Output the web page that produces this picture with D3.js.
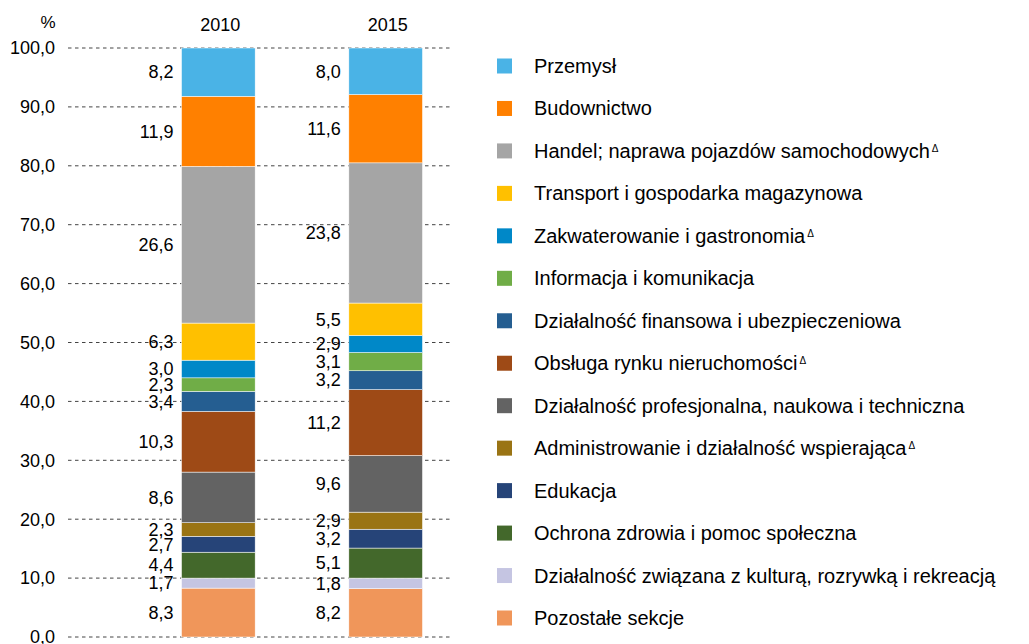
<!DOCTYPE html>
<html>
<head>
<meta charset="utf-8">
<script src="https://cdn.jsdelivr.net/npm/d3@7"></script>
<style>
  body { margin: 0; background: #fff; }
  text { font-family: "Liberation Sans", Arial, sans-serif; fill: #000; }
</style>
</head>
<body>
<div id="chart"></div>
<script>
// Data (legend order, top of the stack first)
var years = ["2010", "2015"];
var sectors = [
  "Przemysł",
  "Budownictwo",
  "Handel; naprawa pojazdów samochodowych",
  "Transport i gospodarka magazynowa",
  "Zakwaterowanie i gastronomia",
  "Informacja i komunikacja",
  "Działalność finansowa i ubezpieczeniowa",
  "Obsługa rynku nieruchomości",
  "Działalność profesjonalna, naukowa i techniczna",
  "Administrowanie i działalność wspierająca",
  "Edukacja",
  "Ochrona zdrowia i pomoc społeczna",
  "Działalność związana z kulturą, rozrywką i rekreacją",
  "Pozostałe sekcje"
];
var delta = [false, false, true, false, true, false, false, true, false, true, false, false, false, false];
var values2010 = [8.2, 11.9, 26.6, 6.3, 3.0, 2.3, 3.4, 10.3, 8.6, 2.3, 2.7, 4.4, 1.7, 8.3];
var values2015 = [8.0, 11.6, 23.8, 5.5, 2.9, 3.1, 3.2, 11.2, 9.6, 2.9, 3.2, 5.1, 1.8, 8.2];
var colors = ["#4ab3e6", "#ff8000", "#a5a5a5", "#ffc000", "#0088c8", "#70ad47", "#255e91",
              "#9e4a16", "#636363", "#9a7414", "#264478", "#43682b", "#c5c5e2", "#f0965a"];
var yTicks = [0, 10, 20, 30, 40, 50, 60, 70, 80, 90, 100];

var width = 1029, height = 644;

var svg = d3.select("#chart")
  .append("svg")
  .attr("width", width)
  .attr("height", height);

var y = d3.scaleLinear().domain([0, 100]).range([637, 48]);

var x = d3.scaleBand()
  .domain(years)
  .range([51, 553])
  .paddingInner(0.56)
  .paddingOuter(0.78);

var fmt = function(v) { return v.toFixed(1).replace(".", ","); };

// Grid lines
svg.append("g").selectAll("line")
  .data(yTicks)
  .enter()
  .append("line")
  .attr("x1", 68)
  .attr("x2", 453)
  .attr("y1", function(d) { return y(d); })
  .attr("y2", function(d) { return y(d); })
  .attr("stroke", "#444")
  .attr("stroke-width", 1)
  .attr("stroke-dasharray", "3.5,3.5");

// Y tick labels
svg.append("g").selectAll("text")
  .data(yTicks)
  .enter()
  .append("text")
  .attr("x", 55)
  .attr("y", function(d) { return y(d); })
  .attr("dy", "0.35em")
  .attr("text-anchor", "end")
  .style("font-size", "18px")
  .text(function(d) { return fmt(d); });

svg.append("text")
  .attr("x", 48)
  .attr("y", 22)
  .attr("dy", "0.35em")
  .attr("text-anchor", "middle")
  .style("font-size", "17px")
  .text("%");

// Stacked bars
var rows = years.map(function(yr, i) {
  var vals = i === 0 ? values2010 : values2015;
  var row = { year: yr };
  sectors.forEach(function(s, j) { row[s] = vals[j]; });
  return row;
});

var stack = d3.stack().keys(sectors.slice().reverse());
var series = stack(rows);

var groups = svg.append("g").selectAll("g")
  .data(series)
  .enter()
  .append("g")
  .attr("fill", function(d) { return colors[sectors.indexOf(d.key)]; });

groups.selectAll("rect")
  .data(function(d) { return d; })
  .enter()
  .append("rect")
  .attr("x", function(d) { return x(d.data.year); })
  .attr("y", function(d) { return y(Math.min(d[1], 100)); })
  .attr("width", x.bandwidth())
  .attr("height", function(d) { return y(d[0]) - y(Math.min(d[1], 100)); })
  .attr("stroke", "#fff")
  .attr("stroke-width", 0.5);

// Value labels
groups.selectAll("text")
  .data(function(d) { return d; })
  .enter()
  .append("text")
  .attr("x", function(d) { return x(d.data.year) - 8; })
  .attr("y", function(d) { return y((d[0] + Math.min(d[1], 100)) / 2); })
  .attr("dy", "0.35em")
  .attr("text-anchor", "end")
  .style("font-size", "18px")
  .text(function(d) { return fmt(d[1] - d[0]); });

// Year labels
svg.append("g").selectAll("text")
  .data(years)
  .enter()
  .append("text")
  .attr("x", function(d) { return x(d) + x.bandwidth() / 2 + 2; })
  .attr("y", 25)
  .attr("dy", "0.35em")
  .attr("text-anchor", "middle")
  .style("font-size", "18px")
  .text(function(d) { return d; });

// Legend
var ly = d3.scalePoint().domain(sectors).range([66, 618]);

var legend = svg.append("g").selectAll("g")
  .data(sectors)
  .enter()
  .append("g")
  .attr("transform", function(d) { return "translate(497," + ly(d) + ")"; });

legend.append("rect")
  .attr("x", 0)
  .attr("y", -7.5)
  .attr("width", 15)
  .attr("height", 15)
  .attr("fill", function(d, i) { return colors[i]; });

var lt = legend.append("text")
  .attr("x", 37)
  .attr("y", 0)
  .attr("dy", "0.35em")
  .style("font-size", "20px")
  .text(function(d) { return d; });

lt.filter(function(d, i) { return delta[i]; })
  .append("tspan")
  .attr("dx", 2)
  .attr("dy", "-0.6em")
  .style("font-size", "10px")
  .text("Δ");
</script>
</body>
</html>
